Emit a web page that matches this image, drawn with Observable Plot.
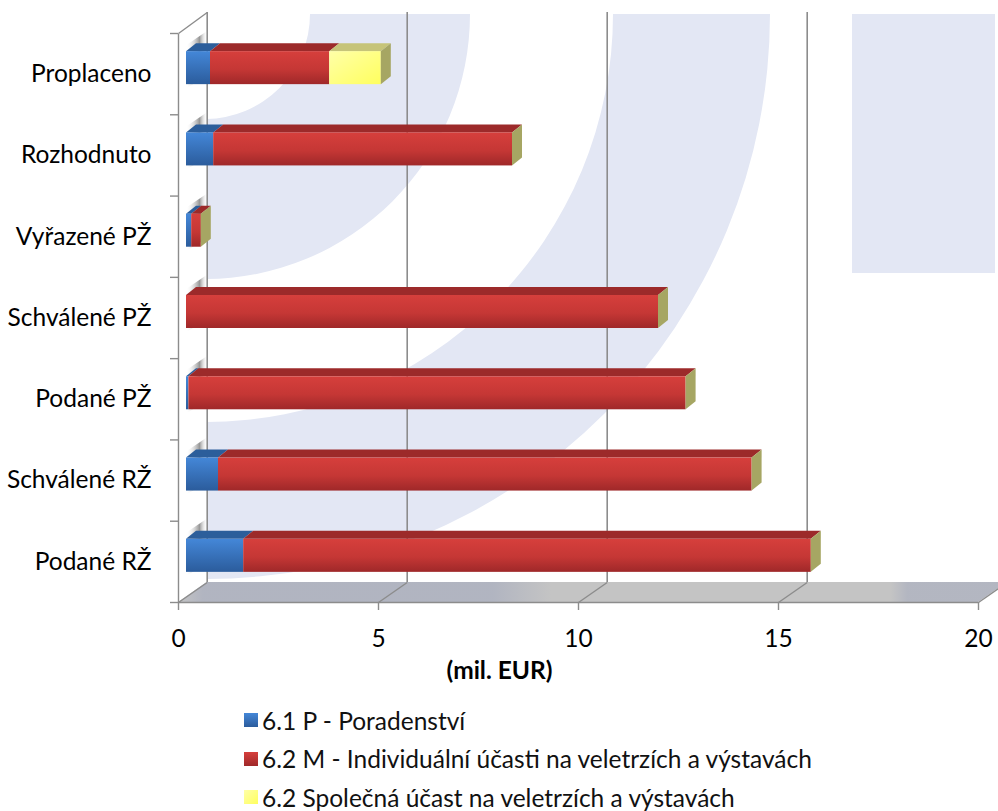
<!DOCTYPE html>
<html>
<head>
<meta charset="utf-8">
<script src="https://cdn.jsdelivr.net/npm/d3@7"></script>
<script src="https://cdn.jsdelivr.net/npm/@observablehq/plot@0.6"></script>
<style>
  body { margin: 0; background: #fff; font-family: Lato, "Open Sans", sans-serif; }
  #chart { width: 998px; }
  #legend { padding-left: 244px; padding-top: 6px; font-size: 24.5px; color: #111; }
  .item { height: 38.6px; display: flex; align-items: center; }
  .sw { width: 14px; height: 14px; margin-right: 4px; flex: none; }
</style>
</head>
<body>
<div id="chart"></div>
<div id="legend"></div>
<script>
// ---- data (bottom to top) ----
const categories = ["Podané RŽ", "Schválené RŽ", "Podané PŽ", "Schválené PŽ", "Vyřazené PŽ", "Rozhodnuto", "Proplaceno"];
const poradenstvi = [1.43, 0.80, 0.06, 0.00, 0.13, 0.68, 0.60];
const individualni = [14.19, 13.34, 12.43, 11.80, 0.24, 7.47, 2.98];
const spolecna = [0, 0, 0, 0, 0, 0, 1.29];
const seriesNames = ["6.1 P - Poradenství", "6.2 M - Individuální účasti na veletrzích a výstavách", "6.2 Společná účast na veletrzích a výstavách"];
const xTicks = [0, 5, 10, 15, 20];
const axisTitle = "(mil. EUR)";

// ---- styles ----
const frontStops = [
  [["0%", "#4487d8"], ["100%", "#2b5c9c"]],
  [["0%", "#d63f3c"], ["55%", "#c53735"], ["100%", "#9f2829"]],
  [["0%", "#ffffa8"], ["100%", "#ffff5e"]]
];
const topColors = ["#2c5e9b", "#9c2a2a", "#c6c478"];
const sideColor = "#a6a663";
const gridColor = "#8c8c8c";
const fontSize = 24.5;

// ---- geometry (pixel-based 3D offsets converted to scale units) ----
const W = 998, H = 695;
const mLeft = 178, mRight = 20, mTop = 33, mBottom = 93;
const PXX = (W - mLeft - mRight) / 20;
const PXY = (H - mTop - mBottom) / categories.length;
const ux = p => p / PXX, uy = p => p / PXY;
const barX0 = ux(8), barLift = uy(6), barHalf = uy(16.5), faceDX = ux(10), faceDY = uy(8);
const wallDX = ux(28.7), wallDY = uy(20), wallTop = categories.length + uy(21);

const series = [poradenstvi, individualni, spolecna];
const segs = [];
const totals = [];
categories.forEach((c, i) => {
  let acc = 0;
  series.forEach((vals, s) => {
    const v = vals[i];
    if (v > 0) segs.push({id: i + "-" + s, i, s, x1: acc, x2: acc + v});
    acc += v;
  });
  totals.push({i, total: acc});
});
const yc = i => i + 0.5 + barLift;
const topPts = segs.flatMap(d => [
  {id: d.id, s: d.s, y: yc(d.i) + barHalf, x1: d.x1 + barX0, x2: d.x2 + barX0},
  {id: d.id, s: d.s, y: yc(d.i) + barHalf + faceDY, x1: d.x1 + barX0 + faceDX, x2: d.x2 + barX0 + faceDX}
]);
const sidePts = totals.flatMap(d => [
  {id: d.i, x: d.total + barX0, y1: yc(d.i) - barHalf, y2: yc(d.i) + barHalf},
  {id: d.i, x: d.total + barX0 + faceDX, y1: yc(d.i) - barHalf + faceDY, y2: yc(d.i) + barHalf + faceDY}
]);
const shadowPts = totals.flatMap(d => [
  {id: d.i, x: barX0, y1: yc(d.i) - barHalf - uy(4), y2: yc(d.i) + barHalf + uy(6)},
  {id: d.i, x: wallDX, y1: yc(d.i) - barHalf + uy(8), y2: yc(d.i) + barHalf + uy(20)}
]);
const floorPts = [
  {y: 0, x1: 0, x2: 20},
  {y: wallDY, x1: wallDX, x2: 20 + wallDX}
];
const wallPts = [
  {x: 0, y1: 0, y2: categories.length},
  {x: wallDX, y1: wallDY, y2: wallTop}
];
const bounds = d3.range(categories.length + 1);
const centers = categories.map((c, i) => i + 0.5);

const marks = [
  // left wall
  Plot.areaY(wallPts, {x: "x", y1: "y1", y2: "y2", fill: "#ffffff", curve: "linear"}),
  Plot.areaY(shadowPts, {x: "x", y1: "y1", y2: "y2", z: "id", fill: "url(#wallShadow)", curve: "linear"}),
  // floor
  Plot.areaX(floorPts, {y: "y", x1: "x1", x2: "x2", fill: "#c4c4c4", curve: "linear"}),
  Plot.areaX(floorPts, {y: "y", x1: "x1", x2: "x2", fill: "url(#floorTint)", curve: "linear"}),
  // back wall grid lines
  Plot.ruleX(xTicks, {x: d => d + wallDX, y1: wallDY, y2: wallTop, stroke: gridColor, strokeWidth: 1.6}),
  // floor grid lines
  Plot.link(xTicks, {x1: d => d, y1: 0, x2: d => d + wallDX, y2: wallDY, stroke: gridColor, strokeWidth: 1.4}),
  // wall edges
  Plot.link([0], {x1: 0, y1: 0, x2: 0, y2: categories.length, stroke: gridColor, strokeWidth: 1.4}),
  Plot.link([0], {x1: 0, y1: categories.length, x2: wallDX, y2: wallTop, stroke: gridColor, strokeWidth: 1.4}),
  // front axis line and ticks
  Plot.ruleY([0], {x1: 0, x2: 20, stroke: gridColor, strokeWidth: 1.4}),
  Plot.ruleX(xTicks, {y1: 0, y2: -uy(8), stroke: gridColor, strokeWidth: 1.4}),
  Plot.ruleY(bounds, {x1: -ux(8), x2: 0, stroke: gridColor, strokeWidth: 1.4}),
];
// bars
for (let s = 0; s < 3; s++) {
  marks.push(Plot.areaX(topPts.filter(d => d.s === s), {y: "y", x1: "x1", x2: "x2", z: "id", fill: topColors[s], curve: "linear"}));
}
for (let s = 0; s < 3; s++) {
  marks.push(Plot.rect(segs.filter(d => d.s === s), {
    x1: d => d.x1 + barX0, x2: d => d.x2 + barX0,
    y1: d => yc(d.i) - barHalf, y2: d => yc(d.i) + barHalf,
    fill: `url(#front${s})`
  }));
}
marks.push(Plot.areaY(sidePts, {x: "x", y1: "y1", y2: "y2", z: "id", fill: sideColor, curve: "linear"}));
marks.push(Plot.text([axisTitle], {frameAnchor: "bottom", dx: -79, dy: 76, text: d => d, fontWeight: "bold", fontSize: fontSize, fill: "#000"}));

const chart = Plot.plot({
  width: W, height: H,
  marginLeft: mLeft, marginRight: mRight, marginTop: mTop, marginBottom: mBottom,
  style: {fontSize: fontSize + "px", fontFamily: "Lato, 'Open Sans', sans-serif", color: "#000", background: "transparent", overflow: "visible"},
  x: {domain: [0, 20], ticks: xTicks, tickSize: 0, tickPadding: 27, label: null},
  y: {domain: [0, categories.length], ticks: centers, tickFormat: v => categories[Math.floor(v)], tickSize: 0, tickPadding: 27, label: null},
  marks
});
document.getElementById("chart").appendChild(chart);

// ---- gradients and decorative watermark (background image of the original chart) ----
const svg = d3.select(chart);
const wm = svg.insert("g", ":first-child");
const defs = svg.insert("defs", ":first-child");
frontStops.forEach((stops, s) => {
  const g = defs.append("linearGradient").attr("id", "front" + s).attr("x1", 0).attr("y1", 0).attr("x2", s === 2 ? 1 : 0).attr("y2", 1);
  stops.forEach(([o, c]) => g.append("stop").attr("offset", o).attr("stop-color", c));
});
const sh = defs.append("linearGradient").attr("id", "wallShadow").attr("x1", 0).attr("y1", 0).attr("x2", 1).attr("y2", 0);
sh.append("stop").attr("offset", "0%").attr("stop-color", "#ffffff").attr("stop-opacity", 0);
sh.append("stop").attr("offset", "65%").attr("stop-color", "#8a8a8a").attr("stop-opacity", 0.9);
sh.append("stop").attr("offset", "100%").attr("stop-color", "#ffffff").attr("stop-opacity", 0.2);
// floor tint: the watermark seen on the floor
const ft = defs.append("linearGradient").attr("id", "floorTint").attr("x1", 0).attr("y1", 0).attr("x2", 1).attr("y2", 0);
[["0%", 0.0], ["3%", 0.45], ["38%", 0.45], ["45%", 0.0], ["86%", 0.0], ["88%", 0.4], ["100%", 0.4]]
  .forEach(([o, a]) => ft.append("stop").attr("offset", o).attr("stop-color", "#9aa2bd").attr("stop-opacity", a));
defs.append("clipPath").attr("id", "wmClip").append("rect").attr("x", 207).attr("y", 14).attr("width", 790).attr("height", 568);
const wmColor = "#e3e7f4";
const cx = 205, cy = 14;
const ring = (r1, r2) => `M${cx + r1},${cy} A${r1},${r1} 0 0 1 ${cx},${cy + r1} L${cx},${cy + r2} A${r2},${r2} 0 0 0 ${cx + r2},${cy} Z`;
const wg = wm.attr("clip-path", "url(#wmClip)");
wg.append("path").attr("d", ring(105, 265)).attr("fill", wmColor);
wg.append("path").attr("d", ring(408, 565)).attr("fill", wmColor);
wg.append("rect").attr("x", 852).attr("y", 14).attr("width", 143).attr("height", 259).attr("fill", wmColor);

// ---- legend ----
const legend = d3.select("#legend");
seriesNames.forEach((name, s) => {
  const it = legend.append("div").attr("class", "item");
  const st = frontStops[s];
  it.append("div").attr("class", "sw").style("background", `linear-gradient(${s === 2 ? "135deg" : "180deg"}, ${st[0][1]}, ${st[st.length - 1][1]})`);
  it.append("span").text(name);
});
</script>
</body>
</html>
